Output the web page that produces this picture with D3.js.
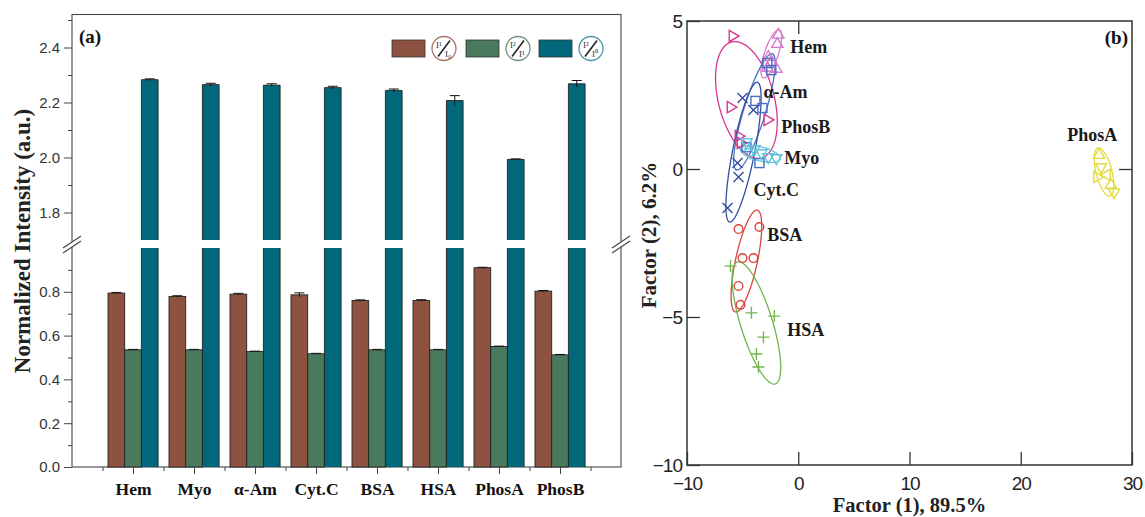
<!DOCTYPE html>
<html>
<head>
<meta charset="utf-8">
<script src="https://cdn.jsdelivr.net/npm/d3@7"></script>
<style>
  html, body { margin: 0; padding: 0; background: #fff; }
  svg { display: block; }
</style>
</head>
<body>
<svg id="fig" width="1145" height="517"></svg>
<script>
// ---------- Panel (a): normalized intensity ratios ----------
const categories = ["Hem", "Myo", "α-Am", "Cyt.C", "BSA", "HSA", "PhosA", "PhosB"];
const ratio10 = [0.794, 0.779, 0.789, 0.786, 0.760, 0.760, 0.910, 0.803];
const ratio21 = [0.535, 0.535, 0.527, 0.517, 0.535, 0.535, 0.550, 0.512];
const ratio20 = [2.283, 2.265, 2.263, 2.254, 2.244, 2.207, 1.993, 2.268];
const err10 = [0.003, 0.003, 0.004, 0.009, 0.003, 0.004, 0.002, 0.003];
const err21 = [0.002, 0.002, 0.002, 0.002, 0.002, 0.002, 0.002, 0.002];
const err20 = [0.003, 0.005, 0.005, 0.005, 0.005, 0.018, 0.002, 0.012];
const lowTicks = [0.0, 0.2, 0.4, 0.6, 0.8];
const lowMinor = [0.1, 0.3, 0.5, 0.7, 0.9];
const highTicks = [1.8, 2.0, 2.2, 2.4];
const highMinor = [1.9, 2.1, 2.3, 2.5];

// ---------- Panel (b): factor scores ----------
const pcaHem   = [[-1.79, 4.53], [-1.88, 4.22], [-2.69, 3.78], [-2.42, 3.61], [-1.97, 3.38], [-2.78, 3.41]];
const pcaPhosB = [[-5.91, 4.49], [-6.09, 2.09], [-2.78, 1.66], [-5.37, 1.11], [-5.19, 0.88]];
const pcaAAm   = [[-2.78, 3.58], [-2.42, 3.34], [-3.85, 2.30], [-3.22, 2.06], [-4.66, 0.74], [-3.49, 0.20]];
const pcaCytC  = [[-5.01, 2.40], [-4.03, 1.99], [-5.46, 0.20], [-5.37, -0.27], [-6.36, -1.32]];
const pcaMyo   = [[-4.66, 0.91], [-3.94, 0.68], [-3.31, 0.54], [-2.69, 0.41], [-1.97, 0.37], [-4.30, 0.57]];
const pcaBSA   = [[-5.37, -2.03], [-3.49, -1.96], [-5.01, -3.01], [-4.03, -3.01], [-5.37, -3.95], [-5.19, -4.59]];
const pcaHSA   = [[-6.09, -3.28], [-4.21, -4.86], [-2.15, -4.97], [-3.13, -5.68], [-3.76, -6.25], [-3.58, -6.69]];
const pcaPhosA = [[27.04, 0.47], [27.22, 0.07], [26.86, -0.27], [27.75, -0.20], [28.11, -0.54], [28.38, -0.78]];

// confidence ellipses: centre, major semi-axis vector, minor semi-axis vector (factor units)
const ellHem   = [-2.42, 3.89, 0.72, 0.81, 0.59, -0.074];
const ellPhosB = [-4.66, 2.33, -1.34, 1.96, 2.43, 0.236];
const ellAAm   = [-3.94, 1.93, 1.61, 1.96, 0.94, -0.11];
const ellCytC  = [-4.92, 0.57, 1.25, 2.36, 0.97, -0.073];
const ellMyo   = [-3.40, 0.51, 1.79, -0.17, -0.152, -0.23];
const ellBSA   = [-4.66, -3.11, 0.985, 1.72, 0.96, -0.078];
const ellHSA   = [-3.76, -5.20, -1.70, 2.06, 1.37, 0.161];
const ellPhosA = [27.48, -0.10, -0.54, 0.81, 0.70, 0.064];

// label anchors (factor units)
const labHem = [-0.72, 3.92], labAAm = [-3.13, 2.40], labPhosB = [-1.52, 1.22], labMyo = [-1.25, 0.17];
const labCytC = [-4.03, -0.91], labBSA = [-2.78, -2.43], labHSA = [-0.98, -5.64], labPhosA = [24.17, 0.95];

const svg = d3.select("#fig");
const serif = '"Liberation Serif", "Times New Roman", serif';
const sans = '"Liberation Sans", Arial, sans-serif';

// ======================= Panel (a) =======================
const A = { left: 72, right: 621, top: 14.5, bottom: 467 };
const xA = d3.scaleLinear().domain([0, 9]).range([A.left, A.right]);
const yLow = d3.scaleLinear().domain([0, 1.0]).range([467, 248]);
const yHigh = d3.scaleLinear().domain([1.7, 2.52]).range([240, A.top]);
const barColors = ["#8e5240", "#4a7a5e", "#00687a"];
const series = [ratio10, ratio21, ratio20];
const errs = [err10, err21, err20];
const bw = 16.7;
const offs = [-25, -8.3, 8.4];

const gA = svg.append("g");

// frame
gA.append("rect").attr("x", A.left).attr("y", A.top)
  .attr("width", A.right - A.left).attr("height", A.bottom - A.top)
  .attr("fill", "none").attr("stroke", "#444").attr("stroke-width", 1.1);

// bars
const yOf = v => v <= 1.0 ? yLow(v) : yHigh(v);
series.forEach((vals, s) => {
  vals.forEach((v, i) => {
    const x0 = xA(i + 1) + offs[s];
    if (v <= 1.0) {
      gA.append("rect").attr("x", x0).attr("y", yLow(v)).attr("width", bw)
        .attr("height", yLow(0) - yLow(v)).attr("fill", barColors[s])
        .attr("stroke", "#222").attr("stroke-width", 0.9);
    } else {
      gA.append("rect").attr("x", x0).attr("y", yLow(1.0)).attr("width", bw)
        .attr("height", yLow(0) - yLow(1.0)).attr("fill", barColors[s])
        .attr("stroke", "none");
      gA.append("path").attr("d", `M${x0},${yLow(1.0)}V${yLow(0)}M${x0 + bw},${yLow(1.0)}V${yLow(0)}`)
        .attr("stroke", "#222").attr("stroke-width", 0.9);
      gA.append("rect").attr("x", x0).attr("y", yHigh(v)).attr("width", bw)
        .attr("height", yHigh(1.7) - yHigh(v)).attr("fill", barColors[s])
        .attr("stroke", "none");
      gA.append("path").attr("d", `M${x0},${yHigh(1.7)}V${yHigh(v)}H${x0 + bw}V${yHigh(1.7)}`)
        .attr("fill", "none").attr("stroke", "#222").attr("stroke-width", 0.9);
    }
    // error bar
    const e = errs[s][i];
    const cx = x0 + bw / 2;
    const yt = yOf(v + e), yb = yOf(v - e);
    gA.append("path").attr("d", `M${cx},${yb}V${yt}M${cx - 5},${yt}H${cx + 5}`)
      .attr("stroke", "#111").attr("stroke-width", 1);
  });
});

// left axes
const axL = gA.append("g").attr("transform", `translate(${A.left},0)`);
function styleAxis(g, size) {
  g.select(".domain").remove();
  g.selectAll(".tick line").attr("stroke", "#444");
  g.selectAll(".tick text").attr("font-size", size).attr("fill", "#333").attr("font-family", sans);
}
axL.append("g").call(d3.axisLeft(yLow).tickValues(lowTicks).tickFormat(d3.format(".1f")).tickSize(8).tickPadding(4))
  .call(g => styleAxis(g, 15));
axL.append("g").call(d3.axisLeft(yLow).tickValues(lowMinor).tickFormat("").tickSize(4))
  .call(g => styleAxis(g, 15));
axL.append("g").call(d3.axisLeft(yHigh).tickValues(highTicks).tickFormat(d3.format(".1f")).tickSize(8).tickPadding(4))
  .call(g => styleAxis(g, 15));
axL.append("g").call(d3.axisLeft(yHigh).tickValues(highMinor).tickFormat("").tickSize(4))
  .call(g => styleAxis(g, 15));

// bottom axis: category ticks and group separators
const axB = gA.append("g").attr("transform", `translate(0,${A.bottom})`);
axB.append("g").call(d3.axisBottom(xA).tickValues(d3.range(1, 9)).tickFormat(i => categories[i - 1]).tickSize(7).tickPadding(9))
  .call(g => {
    g.select(".domain").remove();
    g.selectAll(".tick line").attr("stroke", "#444");
    g.selectAll(".tick text").attr("font-family", serif).attr("font-weight", "bold")
      .attr("font-size", 17.5).attr("fill", "#111");
  });
axB.append("g").call(d3.axisBottom(xA).tickValues(d3.range(0.5, 9, 1)).tickFormat("").tickSize(4))
  .call(g => { g.select(".domain").remove(); g.selectAll(".tick line").attr("stroke", "#444"); });

// axis break marks
function breakMark(x, y) {
  gA.append("path").attr("d", `M${x - 8},${y + 6}L${x + 8},${y - 5}L${x + 8},${y - 10}L${x - 8},${y + 1}Z`)
    .attr("fill", "#fff").attr("stroke", "none");
  gA.append("path").attr("d", `M${x - 9},${y + 7}L${x + 9},${y - 5}M${x - 9},${y + 2}L${x + 9},${y - 10}`)
    .attr("stroke", "#444").attr("stroke-width", 1.1);
}
breakMark(A.left, (yLow(1.0) + yHigh(1.7)) / 2 + 2);
breakMark(A.right, (yLow(1.0) + yHigh(1.7)) / 2 + 2);

// titles
gA.append("text").attr("x", 79).attr("y", 43).text("(a)")
  .attr("font-family", serif).attr("font-weight", "bold").attr("font-size", 19).attr("fill", "#111");
gA.append("text").attr("transform", "translate(30,241) rotate(-90)").attr("text-anchor", "middle")
  .text("Normalized Intensity (a.u.)")
  .attr("font-family", serif).attr("font-weight", "bold").attr("font-size", 23).attr("fill", "#222");

// legend
const legendSymbols = [["I¹", "I₀"], ["I²", "I¹"], ["I²", "I⁰"]];
const legendRing = ["#a57563", "#6f9480", "#4d95a3"];
const legendX = [392, 466, 539];
legendX.forEach((lx, k) => {
  gA.append("rect").attr("x", lx).attr("y", 40).attr("width", 33).attr("height", 17)
    .attr("fill", barColors[k]).attr("stroke", "#333").attr("stroke-width", 0.8);
  const c = gA.append("g").attr("transform", `translate(${lx + 52},48.5)`);
  c.append("circle").attr("r", 12).attr("fill", "#fff").attr("stroke", legendRing[k]).attr("stroke-width", 1.3);
  c.append("path").attr("d", "M-6,8L6,-8").attr("stroke", "#222").attr("stroke-width", 1.6);
  c.append("text").attr("x", -8).attr("y", -1).text(legendSymbols[k][0])
    .attr("font-family", serif).attr("font-size", 9).attr("fill", "#333");
  c.append("text").attr("x", 1).attr("y", 8).text(legendSymbols[k][1])
    .attr("font-family", serif).attr("font-size", 9).attr("fill", "#333");
});

// ======================= Panel (b) =======================
const B = { left: 687, right: 1132, top: 21, bottom: 465 };
const xB = d3.scaleLinear().domain([-10, 30]).range([B.left, B.right]);
const yB = d3.scaleLinear().domain([-10, 5]).range([B.bottom, B.top]);
const gB = svg.append("g");

const groups = [
  { name: "Hem",   pts: pcaHem,   ell: ellHem,   lab: labHem,   color: "#d77bcb", shape: "triUp" },
  { name: "PhosB", pts: pcaPhosB, ell: ellPhosB, lab: labPhosB, color: "#d8368f", shape: "triRight" },
  { name: "α-Am",  pts: pcaAAm,   ell: ellAAm,   lab: labAAm,   color: "#4a6ec4", shape: "square" },
  { name: "Cyt.C", pts: pcaCytC,  ell: ellCytC,  lab: labCytC,  color: "#34509e", shape: "x" },
  { name: "Myo",   pts: pcaMyo,   ell: ellMyo,   lab: labMyo,   color: "#62c3da", shape: "triDown" },
  { name: "BSA",   pts: pcaBSA,   ell: ellBSA,   lab: labBSA,   color: "#d9463f", shape: "circle" },
  { name: "HSA",   pts: pcaHSA,   ell: ellHSA,   lab: labHSA,   color: "#70b84e", shape: "plus" },
  { name: "PhosA", pts: pcaPhosA, ell: ellPhosA, lab: labPhosA, color: "#e2dc3a", shape: "triMix" }
];

const ellLine = d3.line().curve(d3.curveLinearClosed);
groups.forEach(gr => {
  const [cx, cy, ux, uy, vx, vy] = gr.ell;
  const pts = d3.range(0, 360, 3).map(a => {
    const t = a * Math.PI / 180;
    return [xB(cx + Math.cos(t) * ux + Math.sin(t) * vx), yB(cy + Math.cos(t) * uy + Math.sin(t) * vy)];
  });
  gB.append("path").attr("d", ellLine(pts)).attr("fill", "none")
    .attr("stroke", gr.color).attr("stroke-width", 1.3);
});

const tri = d3.symbol().type(d3.symbolTriangle).size(55);
groups.forEach(gr => {
  const g = gB.append("g").attr("stroke", gr.color).attr("fill", "none").attr("stroke-width", 1.4);
  gr.pts.forEach((p, i) => {
    const px = xB(p[0]), py = yB(p[1]);
    let rot = 0;
    switch (gr.shape) {
      case "square":
        g.append("rect").attr("x", px - 4.5).attr("y", py - 4.5).attr("width", 9).attr("height", 9);
        break;
      case "circle":
        g.append("circle").attr("cx", px).attr("cy", py).attr("r", 4.3);
        break;
      case "x":
        g.append("path").attr("d", `M${px - 5},${py - 5}L${px + 5},${py + 5}M${px - 5},${py + 5}L${px + 5},${py - 5}`);
        break;
      case "plus":
        g.append("path").attr("d", `M${px - 6},${py}H${px + 6}M${px},${py - 6}V${py + 6}`);
        break;
      default:
        if (gr.shape === "triRight") rot = 90;
        if (gr.shape === "triDown") rot = 180;
        if (gr.shape === "triMix") rot = [0, 180, 90, 270, 0, 180][i % 6];
        g.append("path").attr("d", tri()).attr("transform", `translate(${px},${py}) rotate(${rot})`);
    }
  });
  gB.append("text").attr("x", xB(gr.lab[0])).attr("y", yB(gr.lab[1])).text(gr.name)
    .attr("font-family", serif).attr("font-weight", "bold").attr("font-size", 18).attr("fill", "#1a1a1a");
});

// frame
gB.append("rect").attr("x", B.left).attr("y", B.top).attr("width", B.right - B.left)
  .attr("height", B.bottom - B.top).attr("fill", "none").attr("stroke", "#333").attr("stroke-width", 1.5);

// axes with inward ticks
gB.append("g").attr("transform", `translate(0,${B.bottom})`)
  .call(d3.axisBottom(xB).tickValues([-10, 0, 10, 20, 30]).tickSize(-13).tickPadding(8))
  .call(g => {
    g.select(".domain").remove();
    g.selectAll(".tick line").attr("stroke", "#333").attr("stroke-width", 1.3);
    g.selectAll(".tick text").attr("font-size", 19).attr("fill", "#222").attr("font-family", sans)
      .attr("dy", "0.9em").attr("letter-spacing", "-1");
  });
gB.append("g").attr("transform", `translate(${B.left},0)`)
  .call(d3.axisLeft(yB).tickValues([-10, -5, 0, 5]).tickSize(-13).tickPadding(5))
  .call(g => {
    g.select(".domain").remove();
    g.selectAll(".tick line").attr("stroke", "#333").attr("stroke-width", 1.3);
    g.selectAll(".tick text").attr("font-size", 19).attr("fill", "#222").attr("font-family", sans)
      .attr("letter-spacing", "-1");
  });
gB.append("g").attr("transform", `translate(0,${B.top})`)
  .call(d3.axisTop(xB).tickValues([0]).tickSize(-13).tickFormat(""))
  .call(g => { g.select(".domain").remove(); g.selectAll(".tick line").attr("stroke", "#333").attr("stroke-width", 1.3); });
gB.append("g").attr("transform", `translate(${B.right},0)`)
  .call(d3.axisRight(yB).tickValues([0]).tickSize(-13).tickFormat(""))
  .call(g => { g.select(".domain").remove(); g.selectAll(".tick line").attr("stroke", "#333").attr("stroke-width", 1.3); });

gB.append("text").attr("x", 1128).attr("y", 44).attr("text-anchor", "end").text("(b)")
  .attr("font-family", serif).attr("font-weight", "bold").attr("font-size", 19).attr("fill", "#111");
gB.append("text").attr("x", (B.left + B.right) / 2).attr("y", 512).attr("text-anchor", "middle")
  .text("Factor (1), 89.5%")
  .attr("font-family", serif).attr("font-weight", "bold").attr("font-size", 20.5).attr("fill", "#222");
gB.append("text").attr("transform", "translate(656,235) rotate(-90)").attr("text-anchor", "middle")
  .text("Factor (2), 6.2%")
  .attr("font-family", serif).attr("font-weight", "bold").attr("font-size", 21).attr("fill", "#222");
</script>
</body>
</html>
